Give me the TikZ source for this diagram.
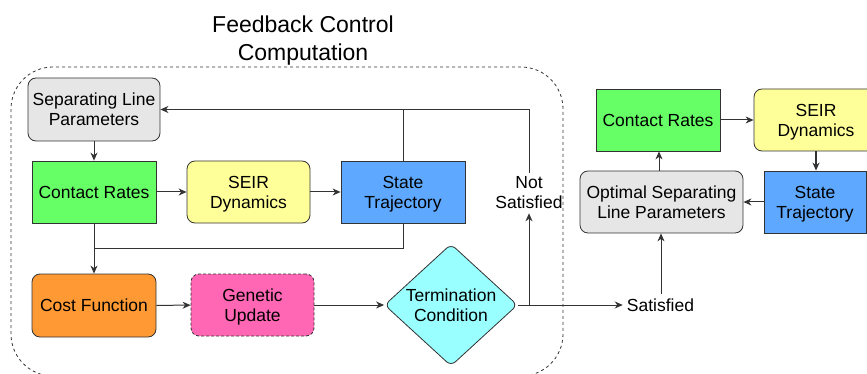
\documentclass[tikz,border=0pt]{standalone}
\usepackage{fontspec}
\setmainfont{Liberation Sans}
\usetikzlibrary{shapes.geometric,arrows.meta}
\definecolor{cgray}{HTML}{E6E6E6}
\definecolor{cgreen}{HTML}{66FF66}
\definecolor{cyellow}{HTML}{FFFF99}
\definecolor{cblue}{HTML}{5EA9FF}
\definecolor{corange}{HTML}{FF9933}
\definecolor{cpink}{HTML}{FF66B3}
\definecolor{ccyan}{HTML}{99FFFF}
\definecolor{cline}{HTML}{333333}
\begin{document}
\begin{tikzpicture}[x=1pt,y=-1pt,
  box/.style={draw=cline, line width=0.8pt, minimum width=124pt, minimum height=62pt,
    inner sep=0pt, align=center, text depth=0pt, font=\fontsize{17.5}{20}\selectfont},
  rbox/.style={box, rounded corners=8pt},
  lbl/.style={inner sep=4pt, align=center, font=\fontsize{17.5}{20}\selectfont},
  conn/.style={draw=cline, line width=1pt},
  arr/.style={conn, -{Stealth[length=8pt,width=7pt,inset=2.5pt]}}]
\useasboundingbox (0,0) rectangle (867,374);
% frame
\node[draw=cline, line width=0.8pt, dash pattern=on 3pt off 3pt, rounded corners=42pt,
  minimum width=552pt, minimum height=309pt, inner sep=0pt] (frame) at (287,221.5) {};
\node[inner sep=0pt, align=center, font=\fontsize{23}{28}\selectfont] (title) at (303,41)
  {Feedback Control\\Computation};
% left nodes
\node[rbox, fill=cgray, minimum width=132pt, minimum height=63pt] (slp) at (94,109.5) {Separating Line\\Parameters};
\node[box, fill=cgreen] (cr1) at (94,192) {Contact Rates};
\node[rbox, fill=cyellow, minimum width=123pt] (seir1) at (248.5,192) {SEIR\\Dynamics};
\node[box, fill=cblue] (st1) at (403,192) {State\\Trajectory};
\node[rbox, fill=corange, minimum height=63pt] (cf) at (94,305.5) {Cost Function};
\node[rbox, fill=cpink, minimum width=123pt, dash pattern=on 3pt off 2pt] (gu) at (252.5,305) {Genetic\\Update};
\node[diamond, draw=cline, line width=0.8pt, fill=ccyan, aspect=1.09, minimum width=133pt,
  minimum height=122pt, inner sep=0pt, rounded corners=6pt, align=center,
  font=\fontsize{17.5}{20}\selectfont] (tc) at (451,305) {Termination\\Condition};
\node[lbl] (sat) at (660.5,305) {Satisfied};
\node[lbl] (notsat) at (529,193) {Not\\Satisfied};
% right nodes
\node[box, fill=cgreen] (cr2) at (658,120) {Contact Rates};
\node[rbox, fill=cyellow] (seir2) at (816,120) {SEIR\\Dynamics};
\node[box, fill=cblue, minimum width=102pt] (st2) at (815,202) {State\\Trajectory};
\node[rbox, fill=cgray, minimum width=163pt] (osl) at (661.5,202) {Optimal Separating\\Line Parameters};
% coordinates
\coordinate (j1) at (94,248);
\coordinate (br) at (529,305);
% left connectors
\draw[arr] (slp.south) -- (cr1.north);
\draw[arr] (cr1) -- (seir1);
\draw[arr] (seir1) -- (st1);
\draw[arr] (cr1.south) -- (cf.north);
\draw[conn] (st1.south) |- (j1);
\draw[arr] (cf) -- (gu);
\draw[arr] (gu) -- (tc);
\draw[arr] (tc.east) -- (sat.west);
\draw[arr] (br) -- (notsat.south);
\draw[arr] (notsat.north) |- (slp.east);
\draw[conn] (st1.north) -- (st1.north |- slp.east);
% right connectors
\draw[arr] (cr2) -- (seir2);
\draw[arr, line width=2pt] (seir2.south) -- (seir2.south |- st2.north);
\draw[arr] (st2) -- (osl);
\draw[arr] (osl.north -| 659,0) -- (cr2.south -| 659,0);
\draw[arr] (sat.north -| 661,0) -- (osl.south -| 661,0);
\end{tikzpicture}
\end{document}
